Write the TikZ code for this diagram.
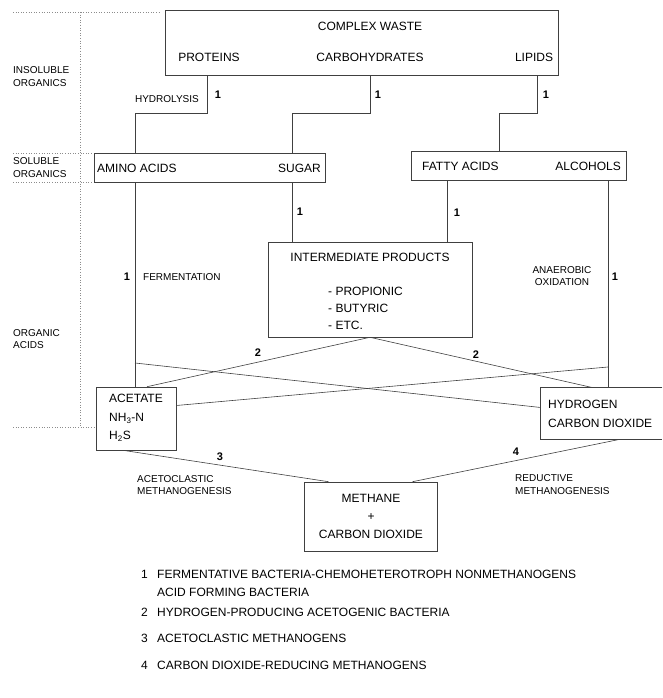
\documentclass[tikz,border=0pt]{standalone}
\usepackage{fontspec}
\setmainfont{Liberation Sans}
\tikzset{
  box/.style={draw=black!75,line width=0.6pt,rectangle,inner sep=0pt},
  txt/.style={inner sep=0pt,font=\fontsize{12}{14}\selectfont},
  small/.style={inner sep=0pt,font=\fontsize{10}{12.5}\selectfont},
  num/.style={inner sep=0pt,font=\fontsize{11}{13}\selectfont\bfseries},
  con/.style={draw=black!75,line width=0.6pt},
  zone/.style={draw=black!45,dotted,line width=0.6pt}
}
\begin{document}
\begin{tikzpicture}[x=1pt,y=-1pt]
\useasboundingbox (0,0) rectangle (662,698);
% zones
\node[small,anchor=west,align=left] (z1) at (13,76.5) {INSOLUBLE\\ORGANICS};
\node[small,anchor=west,align=left] (z2) at (13,167.5) {SOLUBLE\\ORGANICS};
\node[small,anchor=west,align=left] (z3) at (13,339) {ORGANIC\\ACIDS};
\coordinate (d0) at (13,12);
\coordinate (d1) at (80,12);
\draw[zone] (d0) -- (160,12);
\draw[zone] (d1) -- (80,427);
\draw[zone] (13,153) -- (92,153);
\draw[zone] (13,182) -- (92,182);
\draw[zone] (13,427) -- (94,427);

% boxes
\node[box,minimum width=393,minimum height=65] (waste) at (361.5,42.5) {};
\node[txt] (cw) at (370,26) {COMPLEX WASTE};
\node[txt] (prot) at (209,57) {PROTEINS};
\node[txt] (carb) at (370,57) {CARBOHYDRATES};
\node[txt] (lip) at (534,57) {LIPIDS};

\node[box,minimum width=231,minimum height=29] (amino) at (209.5,167.5) {};
\node[txt,anchor=west] (aa) at (97,168) {AMINO ACIDS};
\node[txt,anchor=east] (sug) at (321,168) {SUGAR};

\node[box,minimum width=215,minimum height=29] (fatty) at (518.5,165.5) {};
\node[txt,anchor=west] (fa) at (422,166) {FATTY ACIDS};
\node[txt,anchor=east] (alc) at (621,166) {ALCOHOLS};

\node[box,minimum width=204,minimum height=95] (inter) at (370,289.5) {};
\node[txt] (ip) at (370,257) {INTERMEDIATE PRODUCTS};
\node[txt,anchor=west,align=left,font=\fontsize{12}{17}\selectfont] (list) at (328,308)
  {- PROPIONIC\\- BUTYRIC\\- ETC.};

\node[box,minimum width=80,minimum height=63] (acetate) at (136,418.5) {};
\node[txt,anchor=west,align=left,font=\fontsize{12}{18.5}\selectfont] (ac) at (109,418)
  {ACETATE\\NH\textsubscript{3}-N\\H\textsubscript{2}S};

% hydrogen box runs off the right edge
\node[box,draw=none,minimum width=121,minimum height=51] (hydro) at (601.5,413.5) {};
\draw[con] (hydro.north east) -- (hydro.north west) -- (hydro.south west) -- (hydro.south east);
\node[txt,anchor=west,align=left,font=\fontsize{12}{19}\selectfont] (hc) at (548,413.5)
  {HYDROGEN\\CARBON DIOXIDE};

\node[box,minimum width=133,minimum height=69] (methane) at (370.5,516.5) {};
\node[txt,align=center,font=\fontsize{12}{18}\selectfont] (mc) at (371,516)
  {METHANE\\+\\CARBON DIOXIDE};

% hydrolysis
\coordinate (k1) at (207,113);
\coordinate (k2) at (135,113);
\coordinate (k3) at (370,113);
\coordinate (k4) at (292,113);
\coordinate (k5) at (537,113);
\coordinate (k6) at (499,113);
\coordinate (k7) at (447,200);
\coordinate (k8) at (608,200);
\draw[con] (k1 |- waste.south) -- (k1) -- (k2) -- (k2 |- amino.north);
\draw[con] (k3 |- waste.south) -- (k3) -- (k4) -- (k4 |- amino.north);
\draw[con] (k5 |- waste.south) -- (k5) -- (k6) -- (k6 |- fatty.north);
\node[small,anchor=east] (hl) at (199,99) {HYDROLYSIS};
\node[num] (n1a) at (218,95) {1};
\node[num] (n1b) at (378,95) {1};
\node[num] (n1c) at (546,95) {1};

% fermentation
\draw[con] (k2 |- amino.south) -- (k2 |- acetate.north);
\draw[con] (k4 |- amino.south) -- (k4 |- inter.north);
\draw[con] (k7 |- fatty.south) -- (k7 |- inter.north);
\draw[con] (k8 |- fatty.south) -- (k8 |- hydro.north);
\node[num] (n1d) at (300,212) {1};
\node[num] (n1e) at (457,213) {1};
\node[num] (n1f) at (127,277) {1};
\node[num] (n1g) at (615,277) {1};
\node[small,anchor=west] (fe) at (143,277) {FERMENTATION};
\node[small,align=center] (ao) at (562,276) {ANAEROBIC\\OXIDATION};

% acetogenesis
\coordinate (x1) at (135,363);
\coordinate (x2) at (608,367);
\draw[con] (x1) -- ([yshift=6pt]hydro.west);
\draw[con] (x2) -- ([yshift=13pt]acetate.east);
\draw[con] ([xshift=11pt]acetate.north) -- (inter.south);
\draw[con] (inter.south) -- ([xshift=-8.5pt]hydro.north);
\node[num] (n2a) at (258,353) {2};
\node[num] (n2b) at (476,355) {2};

% methanogenesis
\draw[con] ([xshift=-13pt]acetate.south) -- ([xshift=-42pt]methane.north);
\draw[con] ([xshift=18.5pt]hydro.south) -- ([xshift=42pt]methane.north);
\node[num] (n3) at (220,457) {3};
\node[num] (n4) at (516,452) {4};
\node[small,anchor=west,align=left] (am) at (137,485) {ACETOCLASTIC\\METHANOGENESIS};
\node[small,anchor=west,align=left] (rm) at (515,484.5) {REDUCTIVE\\METHANOGENESIS};

% legend
\node[txt,anchor=west] (l1) at (141,574) {1};
\node[txt,anchor=west,align=left,font=\fontsize{12}{18}\selectfont] (t1) at (157,583)
  {FERMENTATIVE BACTERIA-CHEMOHETEROTROPH NONMETHANOGENS\\ACID FORMING BACTERIA};
\node[txt,anchor=west] (l2) at (141,612) {2};
\node[txt,anchor=west] (t2) at (157,612) {HYDROGEN-PRODUCING ACETOGENIC BACTERIA};
\node[txt,anchor=west] (l3) at (141,638) {3};
\node[txt,anchor=west] (t3) at (157,638) {ACETOCLASTIC METHANOGENS};
\node[txt,anchor=west] (l4) at (141,665) {4};
\node[txt,anchor=west] (t4) at (157,665) {CARBON DIOXIDE-REDUCING METHANOGENS};
\end{tikzpicture}
\end{document}
